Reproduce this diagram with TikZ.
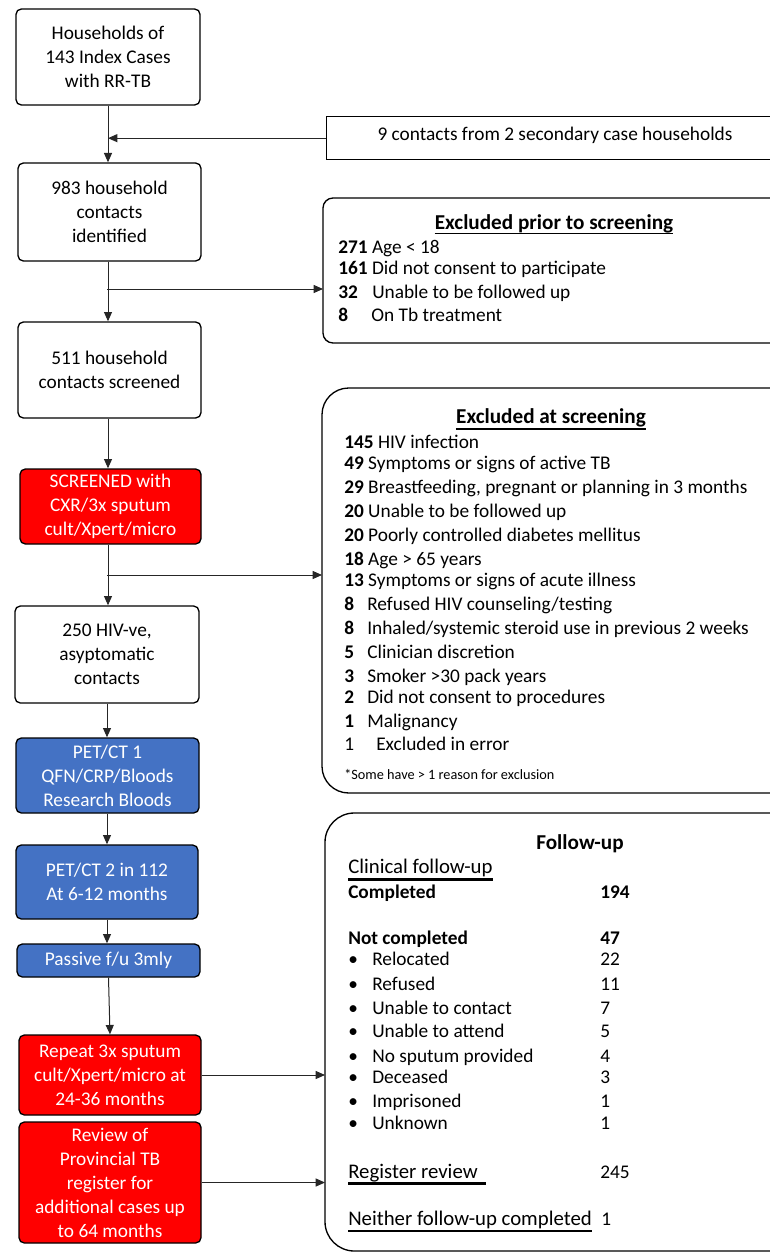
\documentclass[tikz,border=0pt]{standalone}
\usepackage{fontspec}
\setmainfont{Carlito}
\usetikzlibrary{arrows.meta}
\definecolor{boxred}{HTML}{FF0000}
\definecolor{boxblue}{HTML}{4472C4}
\tikzset{
  box/.style={draw=black, line width=1pt, rounded corners=4pt, align=center, inner sep=0pt,
    font=\fontsize{14.5}{18}\selectfont},
  redbox/.style={box, fill=boxred, text=white},
  bluebox/.style={box, fill=boxblue, text=white},
  panel/.style={draw=black, line width=1pt},
  txt/.style={anchor=base west, inner sep=0pt, font=\fontsize{14.5}{18}\selectfont},
  head/.style={anchor=base, inner sep=0pt, font=\fontsize{15.9}{18}\selectfont\bfseries},
  ultxt/.style={txt, font=\fontsize{15.6}{18}\selectfont},
  arr/.style={draw=black!85, line width=0.75pt, -{Triangle[length=7pt,width=6pt]}},
  ul/.style={line width=2pt}
}
\begin{document}
\begin{tikzpicture}[x=0.75pt, y=-0.75pt]
    \clip (0,0) rectangle (770,1252);
    % left column
    \node[box, minimum width=138pt, minimum height=72pt] (hh) at (108,57) {Households of\\143 Index Cases\\with RR-TB};
    \node[box, minimum width=137.25pt, minimum height=73.5pt] (ident) at (109.5,212) {983 household\\contacts\\identified};
    \node[box, minimum width=137.25pt, minimum height=72pt] (scr) at (109.5,370) {511 household\\contacts screened};
    \node[redbox, minimum width=135.75pt, minimum height=56.25pt] (screened) at (110.5,506.5) {SCREENED with\\CXR/3x sputum\\cult/Xpert/micro};
    \node[box, minimum width=138pt, minimum height=72.75pt] (hiv) at (107,654.5) {250 HIV-ve,\\asyptomatic\\contacts};
    \node[bluebox, minimum width=137.25pt, minimum height=56.25pt] (pet1) at (107.5,775.5) {PET/CT 1\\QFN/CRP/Bloods\\Research Bloods};
    \node[bluebox, minimum width=136.5pt, minimum height=55.5pt] (pet2) at (107,882) {PET/CT 2 in 112\\At 6-12 months};
    \node[bluebox, minimum width=137.25pt, minimum height=24.75pt] (passive) at (108.5,960.5) {Passive f/u 3mly};
    \node[redbox, minimum width=136.5pt, minimum height=60pt] (repeat) at (110,1075) {Repeat 3x sputum\\cult/Xpert/micro at\\24-36 months};
    \node[redbox, minimum width=136.5pt, minimum height=90.75pt] (review) at (110,1182.5) {Review of\\Provincial TB\\register for\\additional cases up\\to 64 months};

    % right column panels
    \node[panel, minimum width=348pt, minimum height=32.25pt, anchor=north west, inner sep=0pt] (sec) at (326,116) {};
    \node[txt, anchor=center] (sectext) at (555,135) {9 contacts from 2 secondary case households};
    \draw[panel, rounded corners=7.5pt] (323,198) rectangle (800,343);
    \coordinate (prior) at (323,270);
    \draw[panel, rounded corners=20pt] (322,388) rectangle (800,793);
    \coordinate (atscr) at (322,590);
    \draw[panel, rounded corners=22pt] (325,813) rectangle (800,1251);
    \coordinate (follow) at (325,1030);

    % connectors
    \draw[arr] (hh.south) -- (hh.south |- ident.north);
    \draw[arr] (sec.west) -- (hh.south |- sec.west);
    \draw[arr] (ident.south -| hh.south) -- (hh.south |- scr.north);
    \coordinate (b1) at (107,289);
    \draw[arr] (b1) -- (b1 -| prior);
    \draw[arr] (scr.south -| hh.south) -- (hh.south |- screened.north);
    \draw[arr] (screened.south -| hh.south) -- (hh.south |- hiv.north);
    \coordinate (b2) at (107,575);
    \draw[arr] (b2) -- (b2 -| atscr);
    \draw[arr] (hiv.south) -- (pet1.north -| hiv.south);
    \draw[arr] (pet1.south -| pet2.north) -- (pet2.north);
    \draw[arr] (pet2.south) -- (passive.north -| pet2.south);
    \draw[arr] (passive.south) -- (repeat.north);
    \draw[arr] (repeat.east) -- (repeat.east -| follow);
    \draw[arr] (review.east) -- (review.east -| follow);

    % excluded prior to screening
    \node[head] (t1) at (554,229) {Excluded prior to screening};
    \draw[line width=1.2pt] ([yshift=-3.5pt]t1.base west) -- ([yshift=-3.5pt]t1.base east);
    \node[txt] (p1) at (338,253) {\textbf{271} Age < 18};
    \node[txt] (p2) at (338,274) {\textbf{161} Did not consent to participate};
    \node[txt] (p3) at (338,298) {\textbf{32}};
    \node[txt] (p3t) at (372,298) {Unable to be followed up};
    \node[txt] (p4) at (338,321) {\textbf{8}};
    \node[txt] (p4t) at (371,321) {On Tb treatment};

    % excluded at screening
    \node[head] (t2) at (551,423) {Excluded at screening};
    \draw[ul] ([yshift=-4.5pt]t2.base west) -- ([yshift=-4.5pt]t2.base east);
    \node[txt] (s1) at (344,448) {\textbf{145} HIV infection};
    \node[txt] (s2) at (344,469) {\textbf{49} Symptoms or signs of active TB};
    \node[txt] (s3) at (344,493) {\textbf{29} Breastfeeding, pregnant or planning in 3 months};
    \node[txt] (s4) at (344,517) {\textbf{20} Unable to be followed up};
    \node[txt] (s5) at (344,541) {\textbf{20} Poorly controlled diabetes mellitus};
    \node[txt] (s6) at (344,565) {\textbf{18} Age > 65 years};
    \node[txt] (s7) at (344,586) {\textbf{13} Symptoms or signs of acute illness};
    \node[txt] (s8) at (344,610) {\textbf{8}};
    \node[txt] (s8t) at (367,610) {Refused HIV counseling/testing};
    \node[txt] (s9) at (344,634) {\textbf{8}};
    \node[txt] (s9t) at (367,634) {Inhaled/systemic steroid use in previous 2 weeks};
    \node[txt] (s10) at (344,658) {\textbf{5}};
    \node[txt] (s10t) at (367,658) {Clinician discretion};
    \node[txt] (s11) at (344,682) {\textbf{3}};
    \node[txt] (s11t) at (367,682) {Smoker >30 pack years};
    \node[txt] (s12) at (344,703) {\textbf{2}};
    \node[txt] (s12t) at (367,703) {Did not consent to procedures};
    \node[txt] (s13) at (344,727) {\textbf{1}};
    \node[txt] (s13t) at (367,727) {Malignancy};
    \node[txt] (s14) at (344,750) {1};
    \node[txt] (s14t) at (376,750) {Excluded in error};
    \node[txt, font=\fontsize{10.7}{12}\selectfont] (note) at (344,779) {*Some have > 1 reason for exclusion};

    % follow-up
    \node[head] (t3) at (580,849) {Follow-up};
    \node[ultxt] (c0) at (348,873) {Clinical follow-up};
    \draw[ul] ([yshift=-5pt]c0.base west) -- ([yshift=-5pt]c0.base east);
    \node[txt] (c1) at (348,898) {\textbf{Completed}};
    \node[txt] (c1n) at (600,898) {\textbf{194}};
    \node[txt] (c2) at (348,944) {\textbf{Not completed}};
    \node[txt] (c2n) at (600,944) {\textbf{47}};
    \node[txt] (d1) at (348,965) {\textbullet};
    \node[txt] (d1t) at (372,965) {Relocated};
    \node[txt] (d1n) at (600,965) {22};
    \node[txt] (d2) at (348,990) {\textbullet};
    \node[txt] (d2t) at (372,990) {Refused};
    \node[txt] (d2n) at (600,990) {11};
    \node[txt] (d3) at (348,1014) {\textbullet};
    \node[txt] (d3t) at (372,1014) {Unable to contact};
    \node[txt] (d3n) at (600,1014) {7};
    \node[txt] (d4) at (348,1037) {\textbullet};
    \node[txt] (d4t) at (372,1037) {Unable to attend};
    \node[txt] (d4n) at (600,1037) {5};
    \node[txt] (d5) at (348,1062) {\textbullet};
    \node[txt] (d5t) at (372,1062) {No sputum provided};
    \node[txt] (d5n) at (600,1062) {4};
    \node[txt] (d6) at (348,1083) {\textbullet};
    \node[txt] (d6t) at (372,1083) {Deceased};
    \node[txt] (d6n) at (600,1083) {3};
    \node[txt] (d7) at (348,1107) {\textbullet};
    \node[txt] (d7t) at (372,1107) {Imprisoned};
    \node[txt] (d7n) at (600,1107) {1};
    \node[txt] (d8) at (348,1129) {\textbullet};
    \node[txt] (d8t) at (372,1129) {Unknown};
    \node[txt] (d8n) at (600,1129) {1};
    \node[ultxt] (r0) at (348,1178) {Register review};
    \draw[ul] ([yshift=-4pt]r0.base west) -- ([yshift=-4pt,xshift=6pt]r0.base east);
    \node[txt] (r0n) at (600,1178) {245};
    \node[ultxt] (n0) at (348,1225) {Neither follow-up completed};
    \draw[ul] ([yshift=-4.5pt]n0.base west) -- ([yshift=-4.5pt]n0.base east);
    \node[txt] (n0n) at (601,1225) {1};
\end{tikzpicture}
\end{document}
